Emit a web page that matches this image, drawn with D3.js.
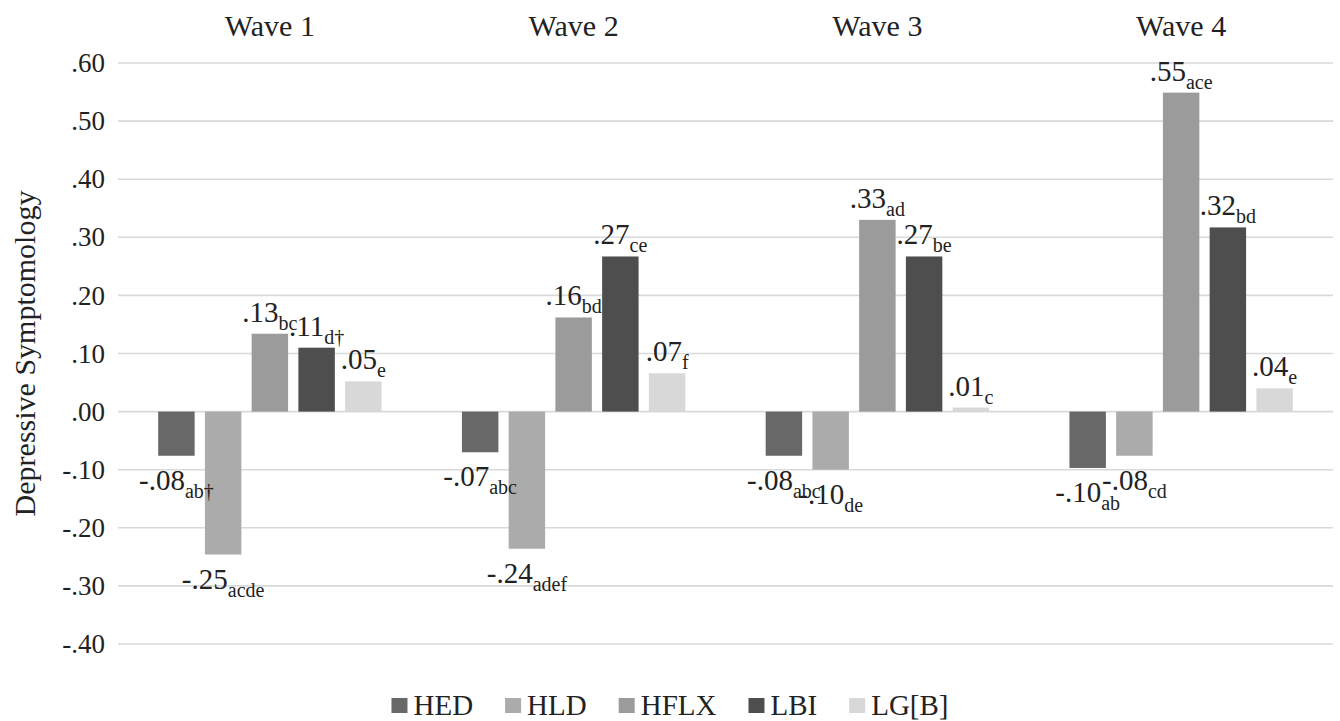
<!DOCTYPE html>
<html>
<head>
<meta charset="utf-8">
<script src="https://cdn.jsdelivr.net/npm/d3@7"></script>
<style>
  body { margin: 0; background: #fff; }
</style>
</head>
<body>
<svg id="plotarea"></svg>
<script>
// Data
var waves = ["Wave 1", "Wave 2", "Wave 3", "Wave 4"];
var groups = ["HED", "HLD", "HFLX", "LBI", "LG[B]"];

var hed  = [-0.076, -0.070, -0.076, -0.097];
var hld  = [-0.246, -0.236, -0.100, -0.076];
var hflx = [0.134, 0.162, 0.330, 0.549];
var lbi  = [0.110, 0.267, 0.267, 0.317];
var lgb  = [0.052, 0.066, 0.007, 0.040];

// significance subscripts for each label
var hedSub  = ["ab\u2020", "abc", "abc", "ab"];
var hldSub  = ["acde", "adef", "de", "cd"];
var hflxSub = ["bc", "bd", "ad", "ace"];
var lbiSub  = ["d\u2020", "ce", "be", "bd"];
var lgbSub  = ["e", "f", "c", "e"];

var colors = ["#686868", "#ababab", "#9b9b9b", "#4e4e4e", "#d8d8d8"];

var values = [hed, hld, hflx, lbi, lgb];
var subs = [hedSub, hldSub, hflxSub, lbiSub, lgbSub];

var width = 1340, height = 721;
var margin = {top: 63, right: 7, bottom: 77, left: 118};
var serif = "'Liberation Serif', 'DejaVu Serif', 'Times New Roman', Times, serif";

var svg = d3.select("#plotarea")
    .attr("width", width)
    .attr("height", height)
    .attr("font-family", serif);

var x0 = d3.scaleBand()
    .domain(waves)
    .range([margin.left, width - margin.right])
    .padding(0);

var x1 = d3.scaleBand()
    .domain(groups)
    .range([0, x0.bandwidth()])
    .paddingInner(0.22)
    .paddingOuter(0.86);

var y = d3.scaleLinear()
    .domain([-0.4, 0.6])
    .range([height - margin.bottom, margin.top]);

// ".60" style numbers: plain hyphen, no leading zero
var locale = d3.formatLocale({decimal: ".", thousands: ",", grouping: [3], currency: ["", ""], minus: "-"});
function fmt(v) {
    return locale.format(".2f")(v).replace(/^(-?)0\./, "$1.");
}

// gridlines + tick labels
var ticks = y.ticks(10);
svg.append("g")
    .selectAll("line")
    .data(ticks)
    .enter()
    .append("line")
    .attr("x1", margin.left)
    .attr("x2", width - margin.right)
    .attr("y1", function (d) { return y(d); })
    .attr("y2", function (d) { return y(d); })
    .attr("stroke", "#d9d9d9")
    .attr("stroke-width", 1.6);

svg.append("g")
    .selectAll("text")
    .data(ticks)
    .enter()
    .append("text")
    .attr("x", 105)
    .attr("y", function (d) { return y(d); })
    .attr("dy", "0.34em")
    .attr("text-anchor", "end")
    .attr("font-size", 27)
    .text(fmt);

// wave titles on top
svg.append("g")
    .selectAll("text")
    .data(waves)
    .enter()
    .append("text")
    .attr("x", function (d) { return x0(d) + x0.bandwidth() / 2; })
    .attr("y", 36)
    .attr("text-anchor", "middle")
    .attr("font-size", 30)
    .text(function (d) { return d; });

// y axis title
svg.append("text")
    .attr("transform", "translate(35," + (y(0.1)) + ") rotate(-90)")
    .attr("text-anchor", "middle")
    .attr("font-size", 30)
    .text("Depressive Symptomology");

// flatten into bar records
var bars = [];
waves.forEach(function (w, i) {
    groups.forEach(function (g, j) {
        bars.push({wave: w, group: g, value: values[j][i], sub: subs[j][i], color: colors[j]});
    });
});

function cx(d) { return x0(d.wave) + x1(d.group) + x1.bandwidth() / 2; }

svg.append("g")
    .selectAll("rect")
    .data(bars)
    .enter()
    .append("rect")
    .attr("x", function (d) { return x0(d.wave) + x1(d.group); })
    .attr("y", function (d) { return y(Math.max(0, d.value)); })
    .attr("width", x1.bandwidth())
    .attr("height", function (d) { return Math.abs(y(d.value) - y(0)); })
    .attr("fill", function (d) { return d.color; });

// value labels with subscripts (drawn after all bars)
var label = svg.append("g")
    .selectAll("text")
    .data(bars)
    .enter()
    .append("text")
    .attr("x", cx)
    .attr("y", function (d) {
        return d.value >= 0 ? y(d.value) - 12 : y(d.value) + 34;
    })
    .attr("text-anchor", "middle")
    .attr("font-size", 29);

label.append("tspan")
    .text(function (d) { return fmt(d.value); });

label.append("tspan")
    .attr("dy", 8)
    .attr("font-size", 20)
    .text(function (d) { return d.sub; });

// legend
var item = svg.append("g")
    .selectAll("g")
    .data(groups)
    .enter()
    .append("g");

item.append("rect")
    .attr("y", 698)
    .attr("width", 16)
    .attr("height", 15)
    .attr("fill", function (d, i) { return colors[i]; });

item.append("text")
    .attr("x", 22)
    .attr("y", 715)
    .attr("font-size", 29)
    .text(function (d) { return d; });

svg.selectAll("text").attr("fill", "#222");

var pos = 0, offsets = [];
item.each(function () {
    offsets.push(pos);
    pos += this.getBBox().width + 32;
});
var start = width / 2 - (pos - 32) / 2;
item.attr("transform", function (d, i) {
    return "translate(" + (start + offsets[i]) + ",0)";
});
</script>
</body>
</html>
